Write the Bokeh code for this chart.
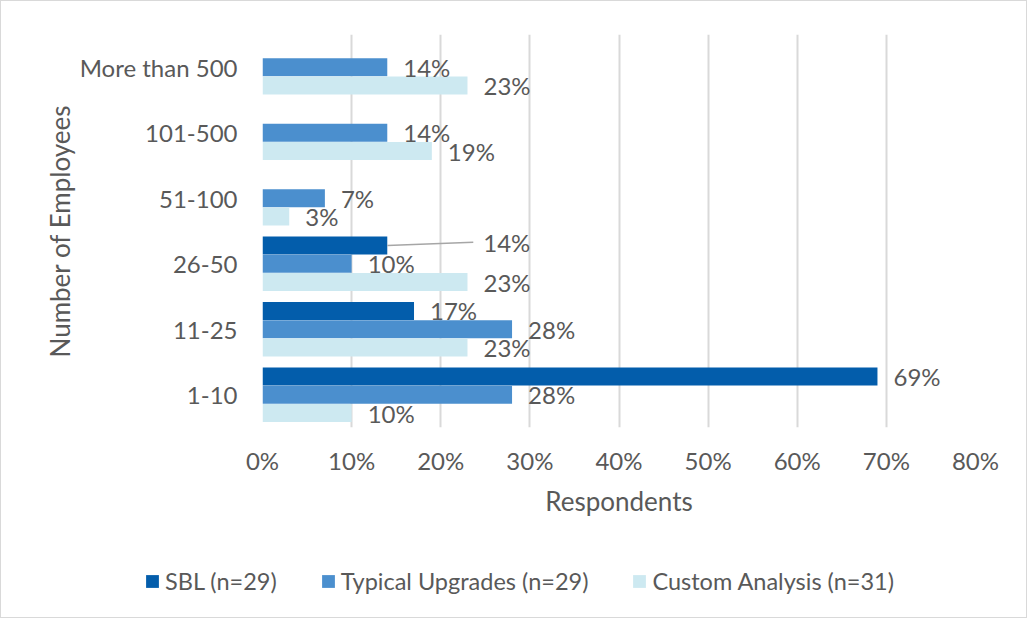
from bokeh.plotting import figure
from bokeh.layouts import column
from bokeh.models import ColumnDataSource, Range1d, FactorRange, Legend, LegendItem, FixedTicker, CustomJSTickFormatter
from bokeh.transform import dodge
from bokeh.core.properties import value
from bokeh.embed import file_html
from bokeh.resources import INLINE

categories = ["1-10", "11-25", "26-50", "51-100", "101-500", "More than 500"]
sbl = [69, 17, 14, None, None, None]
typical = [28, 28, 10, 7, 14, 14]
custom = [10, 23, 23, 3, 19, 23]
series_names = ["SBL (n=29)", "Typical Upgrades (n=29)", "Custom Analysis (n=31)"]
x_ticks = [0, 10, 20, 30, 40, 50, 60, 70, 80]

colors = ["#035DAB", "#4B8FCE", "#CDE9F1"]
TEXT = "#595959"
FONT = "Lato"
LFS = "24px"

W, H = 1025, 540
ML, MR, MT, MB = 261, 51, 33, 114
frame_w = W - ML - MR

p = figure(width=W, height=H, y_range=FactorRange(*categories), x_range=Range1d(0, 80),
           output_backend="svg", toolbar_location=None,
           min_border_left=ML, min_border_right=MR, min_border_top=MT, min_border_bottom=MB)
p.outline_line_color = None
p.background_fill_color = "white"
p.border_fill_color = "white"

offsets = [0.28, 0.0, -0.28]
bar_h = 0.275
all_series = [sbl, typical, custom]
for vals, off, col in zip(all_series, offsets, colors):
    cats = [c for c, v in zip(categories, vals) if v is not None]
    vs = [v for v in vals if v is not None]
    src = ColumnDataSource(dict(cat=cats, v=vs))
    p.hbar(y=dodge("cat", off, range=p.y_range), right="v", left=0, height=bar_h,
           source=src, fill_color=col, line_color=None)

# data labels
px_per_unit = frame_w / 80.0
LABEL_PX = 16
LEAD_PX = 86
for si, (vals, off) in enumerate(zip(all_series, offsets)):
    cats = [c for c, v in zip(categories, vals) if v is not None]
    vs = [v for v in vals if v is not None]
    moved = [i for i, c in enumerate(cats) if si == 0 and c == "26-50"]
    normal = [i for i in range(len(cats)) if i not in moved]
    src_n = ColumnDataSource(dict(cat=[cats[i] for i in normal], v=[vs[i] for i in normal],
                                  lab=[f"{vs[i]}%" for i in normal]))
    p.text(x="v", y=dodge("cat", off, range=p.y_range), text="lab", source=src_n,
           x_offset=LABEL_PX, text_baseline="middle", text_align="left",
           text_color=TEXT, text_font=value(FONT), text_font_size=LFS)
    if moved:
        src_m = ColumnDataSource(dict(cat=[cats[i] for i in moved], v=[vs[i] for i in moved],
                                      v2=[vs[i] + LEAD_PX / px_per_unit for i in moved],
                                      lab=[f"{vs[i]}%" for i in moved]))
        p.segment(x0="v", y0=dodge("cat", off, range=p.y_range), x1="v2",
                  y1=dodge("cat", off + 0.05, range=p.y_range), source=src_m,
                  line_color="#A6A6A6", line_width=1.5)
        p.text(x="v2", y=dodge("cat", off + 0.05, range=p.y_range), text="lab", source=src_m,
               x_offset=10, text_baseline="middle", text_align="left",
               text_color=TEXT, text_font=value(FONT), text_font_size=LFS)

# axes
p.xaxis.ticker = FixedTicker(ticks=x_ticks)
p.xaxis.formatter = CustomJSTickFormatter(code="return tick + '%';")
p.xaxis.axis_line_color = None
p.xaxis.major_tick_line_color = None
p.xaxis.minor_tick_line_color = None
p.xaxis.major_label_standoff = 12
p.xaxis.major_label_text_font = FONT
p.xaxis.major_label_text_font_size = "24px"
p.xaxis.major_label_text_color = TEXT
p.xaxis.axis_label = "Respondents"
p.xaxis.axis_label_text_font = FONT
p.xaxis.axis_label_text_font_size = "26px"
p.xaxis.axis_label_text_font_style = "normal"
p.xaxis.axis_label_text_color = TEXT
p.xaxis.axis_label_standoff = 7

p.yaxis.axis_line_color = None
p.yaxis.major_tick_line_color = None
p.yaxis.major_label_standoff = 19
p.yaxis.major_label_text_font = FONT
p.yaxis.major_label_text_font_size = "24px"
p.yaxis.major_label_text_color = TEXT
p.yaxis.axis_label = "Number of Employees"
p.yaxis.axis_label_text_font = FONT
p.yaxis.axis_label_text_font_size = "26px"
p.yaxis.axis_label_text_font_style = "normal"
p.yaxis.axis_label_text_color = TEXT
p.yaxis.axis_label_standoff = 1

p.ygrid.grid_line_color = None
p.xgrid.ticker = FixedTicker(ticks=x_ticks)
p.xgrid.grid_line_color = "#D9D9D9"
p.xgrid.grid_line_width = 2

# legend strip (own figure, frame not aligned with the chart's frame)
lg = figure(width=W, height=76, x_range=Range1d(0, 1), y_range=Range1d(0, 1),
            x_axis_type=None, y_axis_type=None, output_backend="svg", toolbar_location=None,
            min_border=0)
try:
    lg.frame_align = False
except Exception:
    pass
lg.outline_line_color = None
lg.xgrid.visible = False
lg.ygrid.visible = False
lg_renderers = []
for col in colors:
    r = lg.hbar(y=[0], right=[0], left=[0], height=0, fill_color=col, line_color=None)
    lg_renderers.append(r)
legend = Legend(items=[LegendItem(label=n, renderers=[r]) for n, r in zip(series_names, lg_renderers)],
                orientation="horizontal", location=(143, 22),
                margin=0, padding=0,
                label_text_font=FONT, label_text_font_size="23.5px", label_text_color=TEXT,
                glyph_width=16, glyph_height=16, spacing=43, label_standoff=5,
                border_line_color=None, background_fill_alpha=0)
lg.add_layout(legend, "center")

layout = column(p, lg, spacing=0, styles={"border": "1px solid #D9D9D9"})
open("out.html", "w").write(file_html(layout, INLINE))
